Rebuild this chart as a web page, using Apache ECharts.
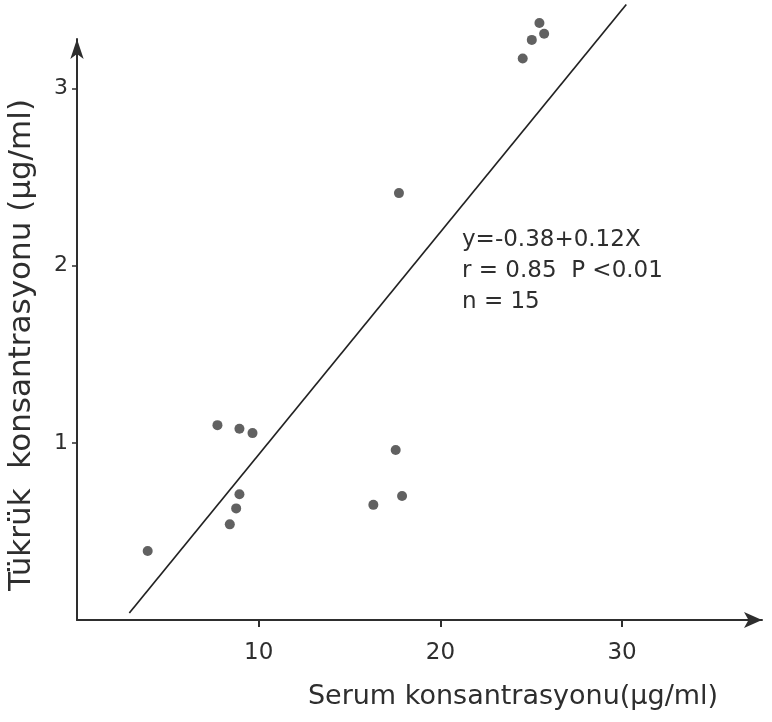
<!DOCTYPE html>
<html>
<head>
<meta charset="utf-8">
<script src="https://cdn.jsdelivr.net/npm/echarts@6/dist/echarts.min.js"></script>
<style>
html,body{margin:0;padding:0;background:#ffffff;}
#chart{width:772px;height:722px;}
</style>
</head>
<body>
<div id="chart"></div>
<script>
// Data
const serum = [3.89, 7.73, 8.94, 9.66, 8.41, 8.76, 8.94, 16.31, 17.54, 17.89, 17.72, 24.53, 25.03, 25.45, 25.71];
const tukruk = [0.39, 1.10, 1.08, 1.055, 0.54, 0.63, 0.71, 0.65, 0.96, 0.70, 2.41, 3.17, 3.275, 3.37, 3.31];
const lineX = [2.88, 30.23];
const lineY = [0.04, 3.475];
const xTicks = [10, 20, 30];
const yTicks = [1, 2, 3];
const xTitle = 'Serum konsantrasyonu(µg/ml)';
const yTitle = 'Tükrük  konsantrasyonu (µg/ml)';
const notes = ['y=-0.38+0.12X', 'r = 0.85  P <0.01', 'n = 15'];

const points = serum.map((v, i) => [v, tukruk[i]]);
const linePts = lineX.map((v, i) => [v, lineY[i]]);
const ink = '#2e2e2e';
const font = 'DejaVu Sans';

const chart = echarts.init(document.getElementById('chart'));
chart.setOption({
  animation: false,
  backgroundColor: '#ffffff',
  grid: {left: 77, right: 10, top: 39, bottom: 102, containLabel: false},
  xAxis: {
    type: 'value', min: 0, max: 37.7,
    splitLine: {show: false},
    axisLine: {show: true, onZero: false, symbol: ['none', 'arrow'], symbolSize: [12, 18], lineStyle: {color: ink, width: 2}},
    axisTick: {show: true, length: 7, customValues: xTicks, lineStyle: {color: ink, width: 2}},
    axisLabel: {show: true, customValues: xTicks, margin: 22, color: ink, fontFamily: font, fontSize: 23}
  },
  yAxis: {
    type: 'value', min: 0, max: 3.28,
    splitLine: {show: false},
    axisLine: {show: true, onZero: false, symbol: ['none', 'arrow'], symbolSize: [10, 20], lineStyle: {color: ink, width: 2}},
    axisTick: {show: true, length: 5, customValues: yTicks, lineStyle: {color: ink, width: 1.5}},
    axisLabel: {show: true, customValues: yTicks, margin: 9, color: ink, fontFamily: font, fontSize: 22}
  },
  graphic: [
    {type: 'text', x: 513, y: 697, style: {text: xTitle, fill: ink, font: '27px "DejaVu Sans"', align: 'center', verticalAlign: 'middle'}},
    {type: 'text', x: 22, y: 345, rotation: Math.PI / 2, style: {text: yTitle, fill: ink, font: '31px "DejaVu Sans"', align: 'center', verticalAlign: 'middle'}},
    {type: 'text', left: 462, top: 225, style: {text: notes.join('\n'), fill: ink, font: '23px "DejaVu Sans"', lineHeight: 31}}
  ],
  series: [
    {type: 'line', data: linePts, showSymbol: false, clip: false, lineStyle: {color: '#222', width: 1.7}, silent: true},
    {type: 'scatter', data: points, symbolSize: 10, clip: false, itemStyle: {color: '#3a3a3a'}}
  ]
});
</script>
</body>
</html>
